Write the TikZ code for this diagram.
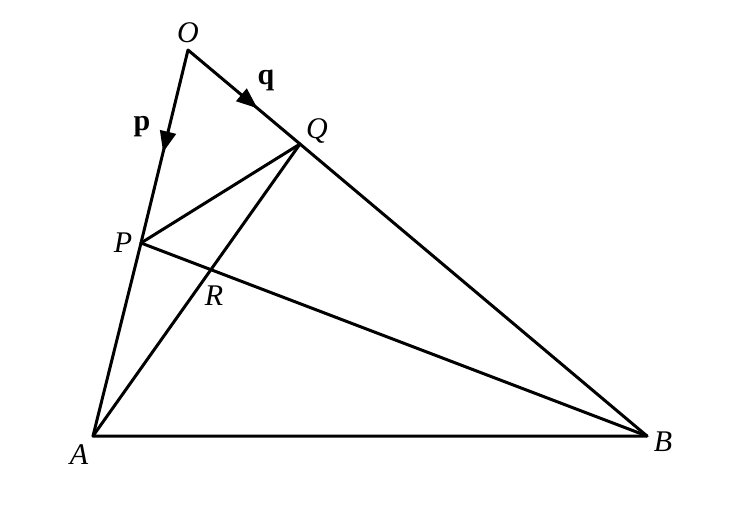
\documentclass[tikz,border=0pt]{standalone}
\usepackage{fontspec}
\setmainfont{Liberation Serif}
\usepackage{tikz}
\usetikzlibrary{calc}
\usetikzlibrary{arrows.meta}
\usetikzlibrary{decorations.markings}

\tikzset{
  edge/.style={line width=3pt, line cap=round, line join=round},
  midarrow/.style={postaction={decorate,decoration={markings,
      mark=at position #1 with {\arrow{Triangle[length=21pt,width=16pt]}}}}},
  lbl/.style={font=\fontsize{30}{31}\selectfont\itshape, inner sep=0pt},
  vec/.style={font=\fontsize{30}{31}\selectfont\bfseries, inner sep=0pt}
}

\begin{document}
\begin{tikzpicture}[x=1pt,y=-1pt]
	  \useasboundingbox (0,0) rectangle (740,508);
	  \coordinate (O) at (188,50);
	  \coordinate (Q) at (300,144);
	  \coordinate (P) at (141,243);
	  \coordinate (A) at (93,436);
	  \coordinate (B) at (647,436);
	  \coordinate (R) at (intersection of A--Q and P--B);
	  % vectors from O
	  \draw[edge, midarrow=0.53] (O) -- (P);
	  \draw[edge, midarrow=0.62] (O) -- (Q);
	  % triangle and cevians
	  \draw[edge] (P) -- (A) -- (B) -- (Q);
	  \draw[edge] (P) -- (Q);
	  \draw[edge] (A) -- (Q);
	  \draw[edge] (P) -- (B);
	  % labels
	  \node[lbl] (lO) at (188,33) {O};
	  \node[lbl] (lQ) at (317,131) {Q};
	  \node[lbl] (lP) at (123,243) {P};
	  \node[lbl] (lR) at (214,296) {R};
	  \node[lbl] (lA) at (79,455) {A};
	  \node[lbl] (lB) at (663,442) {B};
	  \node[vec] (lp) at (142,127) {p};
	  \node[vec] (lq) at (266,80) {q};
	\end{tikzpicture}
\end{document}
